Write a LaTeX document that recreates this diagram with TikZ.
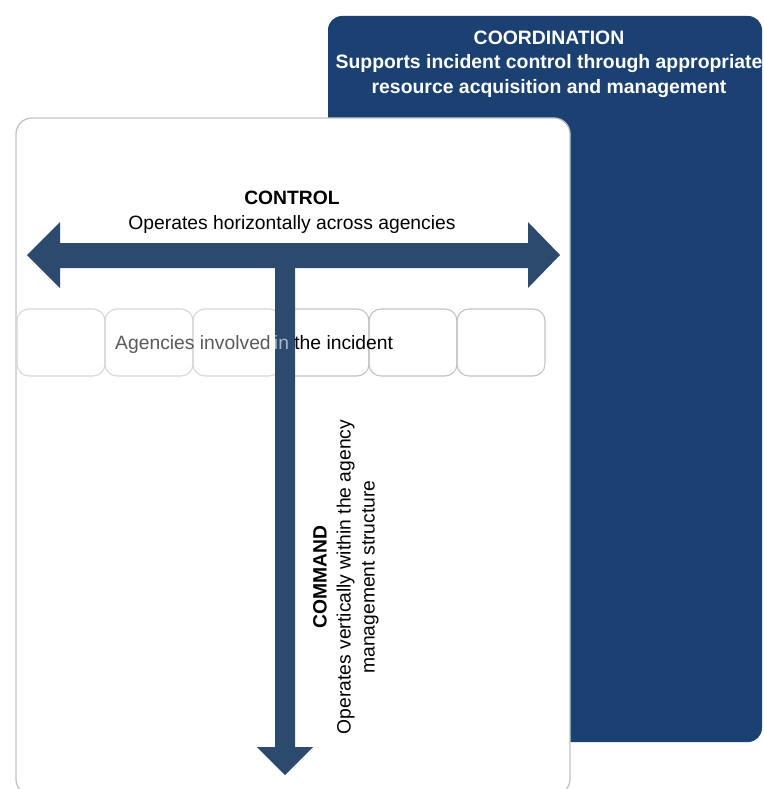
\documentclass[tikz,border=0pt]{standalone}
\usepackage{fontspec}
\setmainfont{Liberation Sans}
\definecolor{coordblue}{RGB}{27,65,114}
\definecolor{arrowblue}{RGB}{44,74,110}
\definecolor{boxgray}{RGB}{195,195,195}
\definecolor{fadegray}{RGB}{215,215,215}
\begin{document}
\begin{tikzpicture}[x=1pt,y=-1pt,
  lbl/.style={font=\fontsize{19.3}{24}\selectfont, align=center, inner sep=0pt},
  agency/.style={draw=boxgray, line width=1.1pt, rounded corners=12pt},
  fadeagency/.style={draw=fadegray, line width=1.1pt, rounded corners=12pt},
  arrowfill/.style={fill=arrowblue}]
\useasboundingbox (0,0) rectangle (763,789);
% coordination panel
\fill[coordblue, rounded corners=14pt] (328,16) rectangle (762,742);
\node[lbl, text=white, font=\fontsize{19.4}{24.5}\bfseries] (coord) at (549,64)
  {COORDINATION\\Supports incident control through appropriate\\resource acquisition and management};
% control panel
\filldraw[fill=white, draw=boxgray, line width=1.3pt, rounded corners=16pt] (16,118) rectangle (570,795);
% agencies boxes
\foreach \i in {0,1,2} {
  \draw[fadeagency] (17+88*\i,309) rectangle (105+88*\i,376);
}
\foreach \i in {3,4,5} {
  \draw[agency] (17+88*\i,309) rectangle (105+88*\i,376);
}
% arrows
\coordinate (hl) at (27,255);
\coordinate (hr) at (560,255);
\coordinate (vt) at (285,255);
\coordinate (vb) at (285,775);
\fill[arrowblue] (hl) -- (60,222) -- (60,243) -- (528,243) -- (528,222) -- (hr)
  -- (528,288) -- (528,268) -- (60,268) -- (60,288) -- cycle;
\fill[arrowblue] (275,255) -- (295,255) -- (295,747) -- (313,747) -- (vb)
  -- (257,747) -- (275,747) -- cycle;
% agencies text
\node[lbl, anchor=west] (agtext) at (115,345)
  {\textcolor[RGB]{90,90,90}{Agencies involved}\,\textcolor[RGB]{170,180,195}{in} the incident};
% control text
\node[lbl, font=\fontsize{19.3}{25}\selectfont] (control) at (292,212)
  {\textbf{CONTROL}\\Operates horizontally across agencies};
% command text
\node[lbl, rotate=90] (command) at (346,577)
  {\textbf{COMMAND}\\Operates vertically within the agency\\management structure};
\end{tikzpicture}
\end{document}
